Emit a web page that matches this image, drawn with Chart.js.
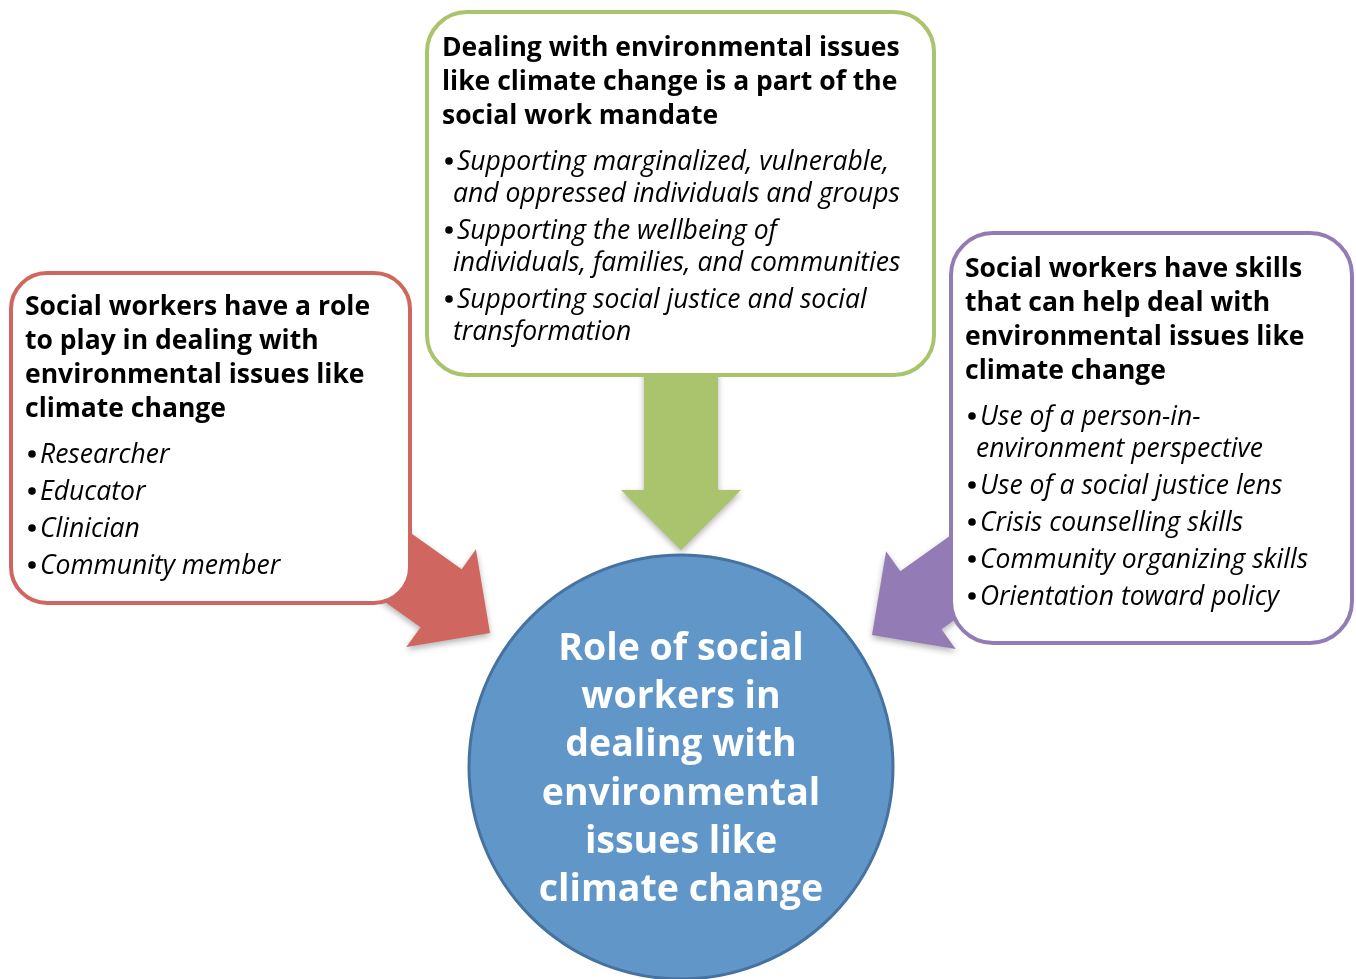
<!DOCTYPE html>
<html>
<head>
<meta charset="utf-8">
<script src="https://cdn.jsdelivr.net/npm/chart.js@4.4.1/dist/chart.umd.min.js"></script>
<style>
  html, body { margin: 0; padding: 0; background: #fff; }
  canvas { display: block; }
</style>
</head>
<body>
<canvas id="diagram" width="1356" height="979"></canvas>
<script>
// Text content of the diagram
const centerLines = ['Role of social', 'workers in', 'dealing with', 'environmental', 'issues like', 'climate change'];

const mandateTitle = ['Dealing with environmental issues', 'like climate change is a part of the', 'social work mandate'];
const mandateBullets = [
    ['Supporting marginalized, vulnerable,', 'and oppressed individuals and groups'],
    ['Supporting the wellbeing of', 'individuals, families, and communities'],
    ['Supporting social justice and social', 'transformation']
];

const roleTitle = ['Social workers have a role', 'to play in dealing with', 'environmental issues like', 'climate change'];
const roleBullets = [['Researcher'], ['Educator'], ['Clinician'], ['Community member']];

const skillsTitle = ['Social workers have skills', 'that can help deal with', 'environmental issues like', 'climate change'];
const skillsBullets = [
    ['Use of a person-in-', 'environment perspective'],
    ['Use of a social justice lens'],
    ['Crisis counselling skills'],
    ['Community organizing skills'],
    ['Orientation toward policy']
];

const FONT = '"Open Sans", Lato, sans-serif';

// Layout of boxes and arrows (diagram units = pixels of the 1356x979 frame)
const boxes = [
    { title: mandateTitle, bullets: mandateBullets, x: 427, y: 12, w: 507, h: 363, r: 40, color: '#a9c46c', textX: 442, firstLine: 56 },
    { title: roleTitle, bullets: roleBullets, x: 11, y: 273, w: 399, h: 330, r: 36, color: '#cf6760', textX: 25, firstLine: 315 },
    { title: skillsTitle, bullets: skillsBullets, x: 951, y: 233, w: 401, h: 410, r: 42, color: '#937cb5', textX: 965, firstLine: 277 }
];

const arrows = [
    { tail: [681, 300], tip: [681, 550], shaft: 37, head: 60, headLen: 60, color: '#a9c46c' },
    { tail: [327, 517], tip: [490, 633], shaft: 35.5, head: 60, headLen: 60, color: '#cf6760' },
    { tail: [1035, 519], tip: [872, 635], shaft: 35.5, head: 60, headLen: 60, color: '#937cb5' }
];

const diagramPlugin = {
    id: 'diagram',
    beforeDatasetsDraw(chart) {
        const ctx = chart.ctx;
        const sx = v => chart.scales.x.getPixelForValue(v);
        const sy = v => chart.scales.y.getPixelForValue(v);

        // arrows, drawn first so the boxes cover their tails
        arrows.forEach(a => {
            const tx = sx(a.tail[0]), ty = sy(a.tail[1]);
            const px = sx(a.tip[0]), py = sy(a.tip[1]);
            const len = Math.hypot(px - tx, py - ty);
            const ux = (px - tx) / len, uy = (py - ty) / len;
            const nx = -uy, ny = ux;
            const bx = px - ux * a.headLen, by = py - uy * a.headLen;
            ctx.save();
            ctx.shadowColor = 'rgba(0,0,0,0.3)';
            ctx.shadowBlur = 6;
            ctx.shadowOffsetY = 3;
            ctx.beginPath();
            ctx.moveTo(tx + nx * a.shaft, ty + ny * a.shaft);
            ctx.lineTo(bx + nx * a.shaft, by + ny * a.shaft);
            ctx.lineTo(bx + nx * a.head, by + ny * a.head);
            ctx.lineTo(px, py);
            ctx.lineTo(bx - nx * a.head, by - ny * a.head);
            ctx.lineTo(bx - nx * a.shaft, by - ny * a.shaft);
            ctx.lineTo(tx - nx * a.shaft, ty - ny * a.shaft);
            ctx.closePath();
            ctx.fillStyle = a.color;
            ctx.fill();
            ctx.restore();
        });

        // boxes with their text
        boxes.forEach(b => {
            const x = sx(b.x), y = sy(b.y), w = sx(b.x + b.w) - x, h = sy(b.y + b.h) - y, r = b.r;
            ctx.save();
            ctx.beginPath();
            ctx.moveTo(x + r, y);
            ctx.arcTo(x + w, y, x + w, y + h, r);
            ctx.arcTo(x + w, y + h, x, y + h, r);
            ctx.arcTo(x, y + h, x, y, r);
            ctx.arcTo(x, y, x + w, y, r);
            ctx.closePath();
            ctx.fillStyle = '#ffffff';
            ctx.fill();
            ctx.lineWidth = 4;
            ctx.strokeStyle = b.color;
            ctx.stroke();

            ctx.fillStyle = '#000000';
            ctx.textBaseline = 'alphabetic';
            ctx.textAlign = 'left';
            let line = b.firstLine;
            ctx.font = 'bold 26.5px ' + FONT;
            b.title.forEach((t, i) => {
                if (i > 0) line += 34;
                ctx.fillText(t, sx(b.textX), sy(line));
            });
            line += 46;
            ctx.font = 'italic 26.5px ' + FONT;
            b.bullets.forEach((item, i) => {
                if (i > 0) line += 37;
                item.forEach((t, j) => {
                    if (j > 0) line += 32;
                    if (j === 0) {
                        ctx.beginPath();
                        ctx.arc(sx(b.textX + 7), sy(line - 9), 3.8, 0, Math.PI * 2);
                        ctx.fill();
                        ctx.fillText(t, sx(b.textX + 15), sy(line));
                    } else {
                        ctx.fillText(t, sx(b.textX + 11), sy(line));
                    }
                });
            });
            ctx.restore();
        });
    },
    afterDatasetsDraw(chart) {
        const ctx = chart.ctx;
        const sx = v => chart.scales.x.getPixelForValue(v);
        const sy = v => chart.scales.y.getPixelForValue(v);
        ctx.save();
        ctx.fillStyle = '#ffffff';
        ctx.font = 'bold 37.5px ' + FONT;
        ctx.textAlign = 'center';
        ctx.textBaseline = 'alphabetic';
        centerLines.forEach((t, i) => {
            ctx.fillText(t, sx(681), sy(660 + i * 48.2));
        });
        ctx.restore();
    }
};

document.addEventListener('DOMContentLoaded', () => {
    const canvas = document.getElementById('diagram');
    new Chart(canvas.getContext('2d'), {
        type: 'bubble',
        data: {
            datasets: [{
                label: 'Role of social workers',
                data: [{ x: 681, y: 767, r: 212 }],
                backgroundColor: '#6196c9',
                borderColor: '#46729f',
                borderWidth: 3
            }]
        },
        options: {
            responsive: false,
            animation: false,
            events: [],
            layout: { padding: 0, autoPadding: false },
            plugins: {
                legend: { display: false },
                tooltip: { enabled: false }
            },
            scales: {
                x: { type: 'linear', min: 0, max: 1356, display: false },
                y: { type: 'linear', min: 0, max: 979, reverse: true, display: false }
            },
            clip: false
        },
        plugins: [diagramPlugin]
    });
});
</script>
</body>
</html>
